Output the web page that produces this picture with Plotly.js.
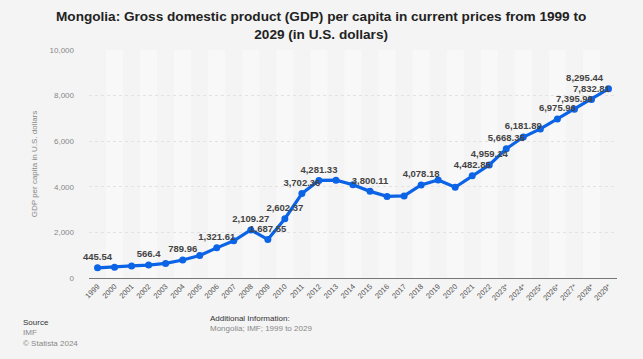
<!DOCTYPE html>
<html>
<head>
<meta charset="utf-8">
<script src="https://cdn.plot.ly/plotly-3.0.1.min.js"></script>
<style>
html,body{margin:0;padding:0;background:#f4f4f4;}
#chart{width:643px;height:359px;}
</style>
</head>
<body>
<div id="chart"></div>
<script>
const years = ["1999","2000","2001","2002","2003","2004","2005","2006","2007","2008","2009","2010","2011","2012","2013","2014","2015","2016","2017","2018","2019","2020","2021","2022","2023*","2024*","2025*","2026*","2027*","2028*","2029*"];
const gdp = [445.54,470,530,566.4,640,789.96,985,1321.61,1630,2109.27,1687.55,2602.37,3702.36,4281.33,4290,4090,3800.11,3580,3600,4078.18,4300,3980,4482.85,4959.14,5668.35,6181.89,6540,6975.96,7395.99,7832.81,8295.44];
const labelled = [1,0,0,1,0,1,0,1,0,1,1,1,1,1,0,0,1,0,0,1,0,0,1,1,1,1,0,1,1,1,1];
const yTicks = [0,2000,4000,6000,8000,10000];

const fmt = v => v.toLocaleString('en-US',{maximumFractionDigits:2});
const texts = gdp.map((v,i)=> labelled[i] ? '<b>'+fmt(v)+'</b>' : "");
const positions = gdp.map((v,i)=> i===gdp.length-1 ? "top left" : "top center");

const shapes = [];
years.forEach((y,i)=>{
  if(i%2===1){
    shapes.push({type:'rect',xref:'x',yref:'paper',x0:i-0.5,x1:i+0.5,y0:0,y1:1,fillcolor:'#f8f8f8',line:{width:0},layer:'below'});
  }
});

const trace = {
  x: years, y: gdp, type:'scatter', mode:'lines+markers+text',
  line:{color:'#0b63e5',width:3.2},
  marker:{color:'#0b63e5',size:7},
  text: texts, textposition: positions,
  textfont:{family:'Liberation Sans, Arial, sans-serif',size:9.5,color:'#444'},
  cliponaxis:false, hoverinfo:'none'
};

const layout = {
  width:643,height:359,
  paper_bgcolor:'#f4f4f4',plot_bgcolor:'#f4f4f4',
  margin:{l:89,r:26,t:50,b:81},
  font:{family:'Liberation Sans, Arial, sans-serif',color:'#666'},
  xaxis:{type:'category',tickangle:-45,tickfont:{size:7.5,color:'#555'},showgrid:false,
    showline:true,linecolor:'#777',linewidth:1.2,ticks:'',range:[-0.5,years.length-0.5]},
  yaxis:{range:[0,10000],tickvals:yTicks,ticktext:yTicks.map(v=>v.toLocaleString('en-US')),
    tickfont:{size:8,color:'#888'},gridcolor:'#e2e2e2',griddash:'dot',zeroline:false,ticks:'',
    ticklabelstandoff:14,
    title:{text:'GDP per capita in U.S. dollars',font:{size:8,color:'#888'},standoff:10}},
  shapes:shapes,
  showlegend:false,
  annotations:[
    {xref:'paper',yref:'paper',x:0.439,y:1.107,xanchor:'center',yanchor:'middle',align:'center',showarrow:false,
     text:'<b>Mongolia: Gross domestic product (GDP) per capita in current prices from 1999 to<br>2029 (in U.S. dollars)</b>',
     font:{size:13.6,color:'#222'}},
    {xref:'paper',yref:'paper',x:-0.128,y:-0.165,xanchor:'left',yanchor:'top',align:'left',showarrow:false,
     text:'<span style="color:#333">Source</span><br>IMF<br>© Statista 2024',font:{size:8,color:'#888'}},
    {xref:'paper',yref:'paper',x:0.225,y:-0.148,xanchor:'left',yanchor:'top',align:'left',showarrow:false,
     text:'<span style="color:#333">Additional Information:</span><br>Mongolia; IMF; 1999 to 2029',font:{size:8,color:'#888'}}
  ]
};
Plotly.newPlot('chart',[trace],layout,{staticPlot:true,displayModeBar:false});
</script>
</body>
</html>
